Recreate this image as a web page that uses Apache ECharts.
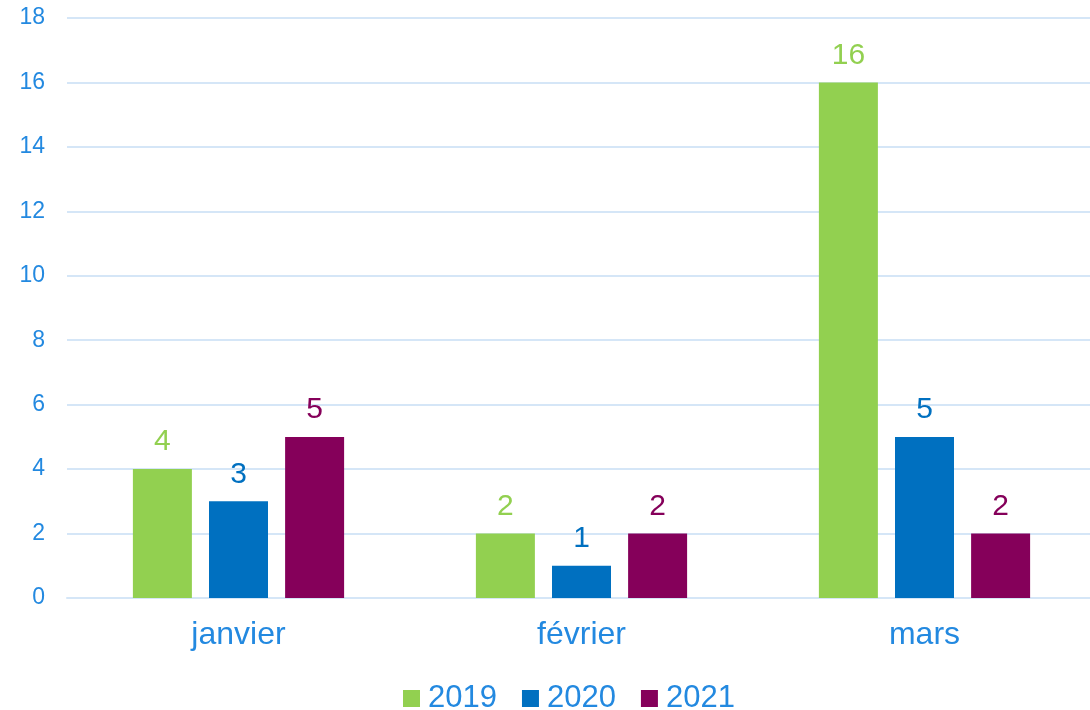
<!DOCTYPE html>
<html><head><meta charset="utf-8">
<script src="https://cdn.jsdelivr.net/npm/echarts@6/dist/echarts.min.js"></script>
<style>html,body{margin:0;padding:0;background:#fff;overflow:hidden}#c{width:1096px;height:710px}</style>
</head><body><div id="c"></div>
<script>
const categories = ['janvier', 'février', 'mars'];
const seriesNames = ['2019', '2020', '2021'];
const values2019 = [4, 2, 16];
const values2020 = [3, 1, 5];
const values2021 = [5, 2, 2];
const colors = ['#92D050', '#0070C0', '#85005A'];
const textBlue = '#2389E0';
const gridColor = '#d5e6f7';
const font = 'Liberation Sans, Arial, sans-serif';

const data = [values2019, values2020, values2021];
const chart = echarts.init(document.getElementById('c'), null, {renderer: 'canvas'});
chart.setOption({
  animation: false,
  backgroundColor: '#fff',
  textStyle: {fontFamily: font},
  grid: {left: 67, top: 18, right: 0, bottom: 112, containLabel: false},
  legend: {
    top: 678, left: 398,
    itemWidth: 17, itemHeight: 17, itemGap: 25,
    icon: 'rect',
    textStyle: {color: textBlue, fontSize: 31, fontFamily: font, padding: [0, 0, 0, 3]},
    data: seriesNames
  },
  xAxis: {
    type: 'category', data: categories,
    axisLine: {lineStyle: {color: gridColor, width: 2}},
    axisTick: {show: false},
    axisLabel: {color: textBlue, fontSize: 32, fontFamily: font, margin: 21}
  },
  yAxis: {
    type: 'value', min: 0, max: 18, interval: 2,
    axisLine: {show: false}, axisTick: {show: false},
    splitLine: {lineStyle: {color: gridColor, width: 2}},
    axisLabel: {color: textBlue, fontSize: 23, fontFamily: font, margin: 22}
  },
  series: seriesNames.map((n, i) => ({
    name: n, type: 'bar', data: data[i],
    barWidth: 59, barGap: '29%',
    itemStyle: {color: colors[i]},
    label: {show: true, position: 'top', distance: 12, color: colors[i], fontSize: 30, fontFamily: font}
  }))
});
</script></body></html>
